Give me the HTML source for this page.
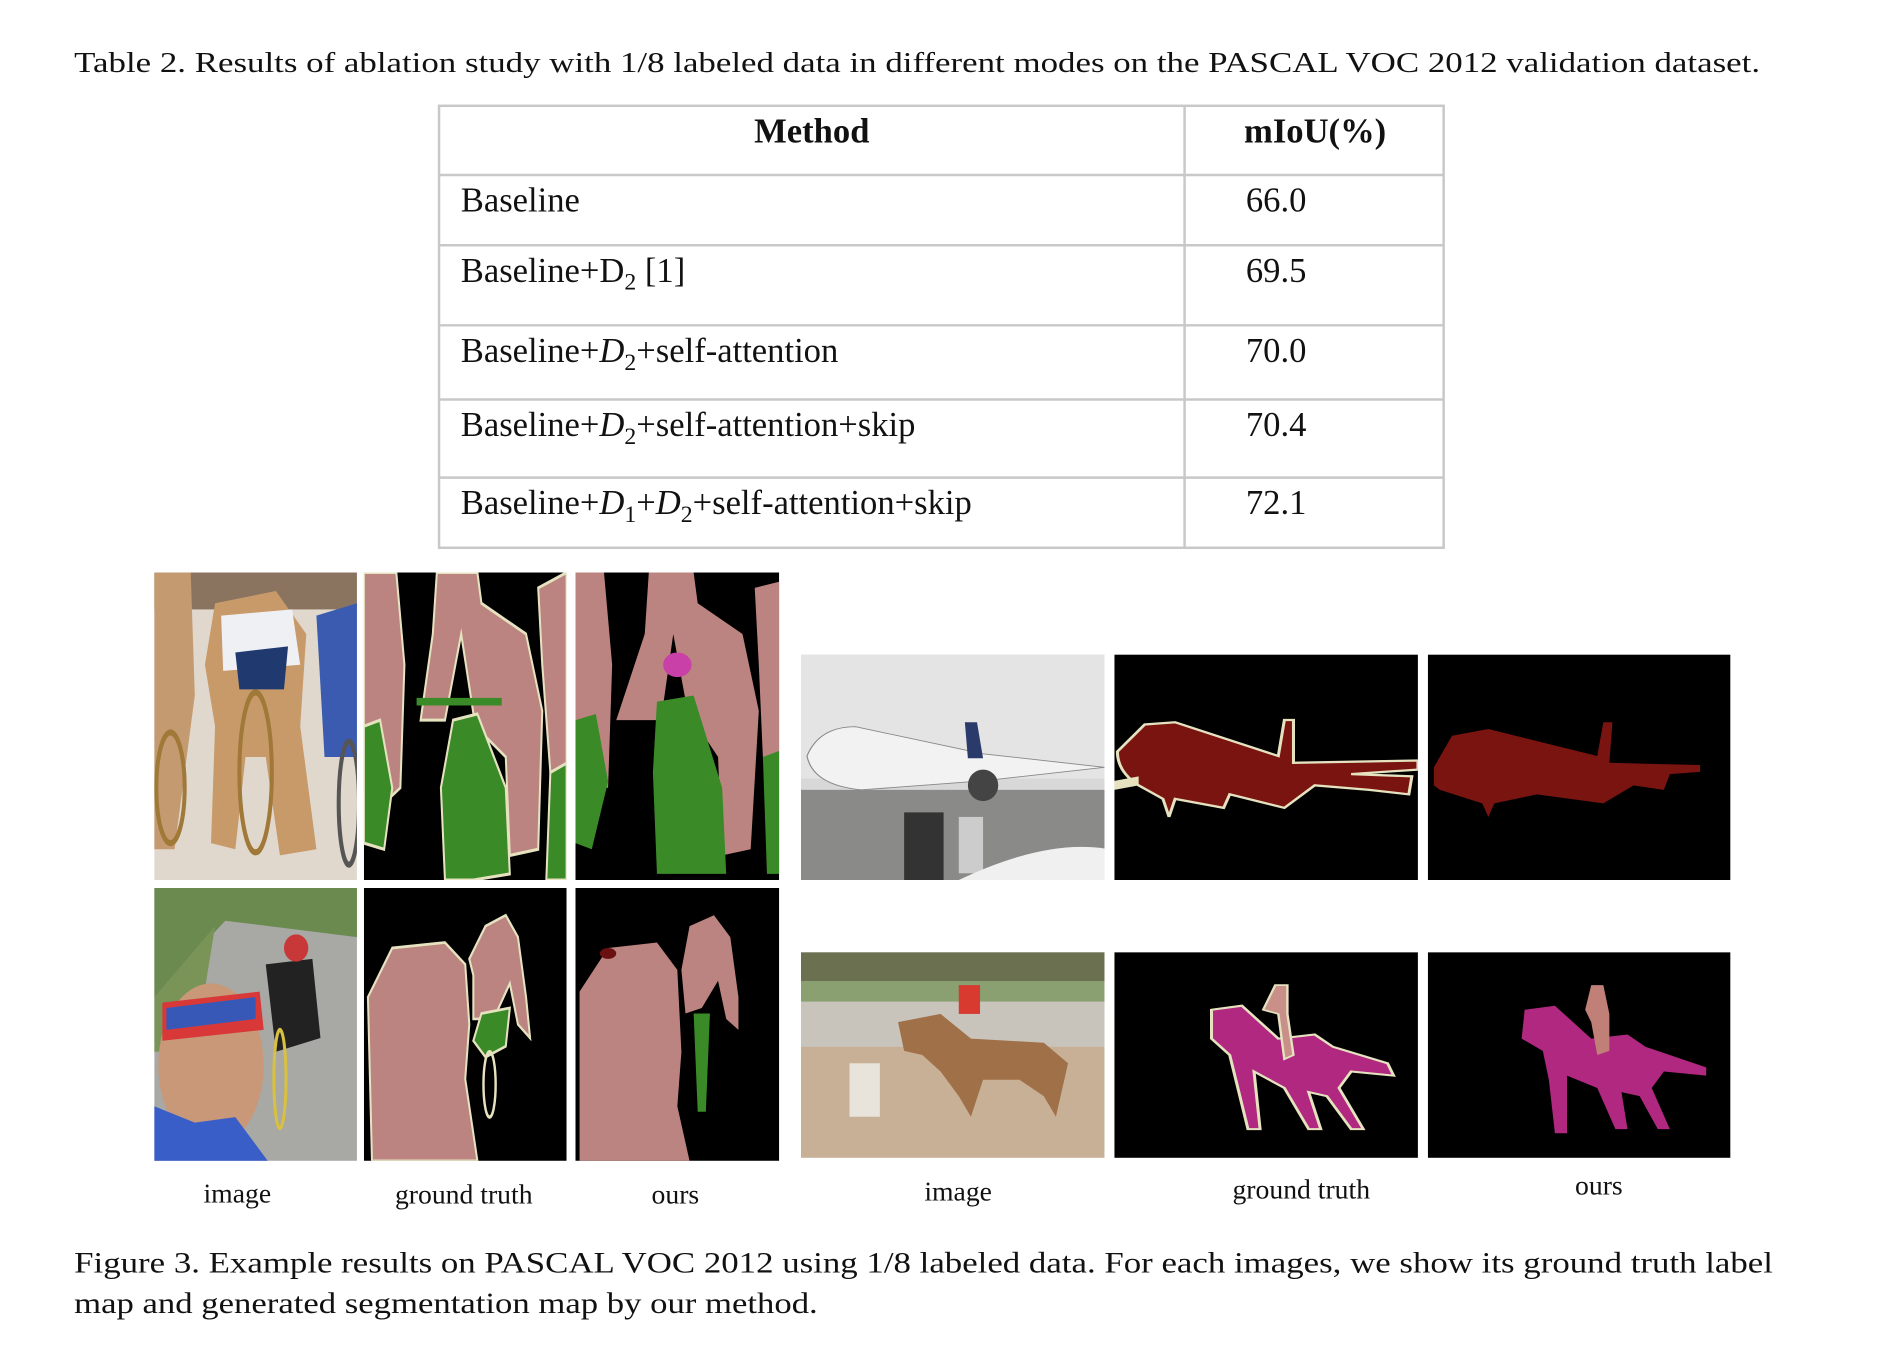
<!DOCTYPE html>
<html><head><meta charset="utf-8">
<style>
html,body{margin:0;padding:0;background:#fff;}
svg{display:block;font-family:"Liberation Serif","Times New Roman",serif;}
</style></head>
<body>
<svg width="1884" height="1346" viewBox="0 0 1884 1346">
<rect width="1884" height="1346" fill="#fff"/>
<g transform="scale(0.9888)">
<text x="75" y="73" font-size="29" fill="#111" textLength="1705" lengthAdjust="spacingAndGlyphs">Table 2. Results of ablation study with 1/8 labeled data in different modes on the PASCAL VOC 2012 validation dataset.</text>

<g stroke="#c8c8c8" stroke-width="2.5" fill="none">
<rect x="444" y="107" width="1016" height="447"/>
<line x1="1198" y1="107" x2="1198" y2="554"/>
<line x1="444" y1="177" x2="1460" y2="177"/>
<line x1="444" y1="248" x2="1460" y2="248"/>
<line x1="444" y1="329" x2="1460" y2="329"/>
<line x1="444" y1="404" x2="1460" y2="404"/>
<line x1="444" y1="483" x2="1460" y2="483"/>
</g>
<g font-size="35" fill="#111">
<text x="821" y="144" font-weight="bold" text-anchor="middle">Method</text>
<text x="1330" y="144" font-weight="bold" text-anchor="middle">mIoU(%)</text>
<text x="466" y="214">Baseline</text>
<text x="466" y="285">Baseline+D<tspan font-size="24" dy="8">2</tspan><tspan dy="-8"> [1]</tspan></text>
<text x="466" y="366">Baseline+<tspan font-style="italic">D</tspan><tspan font-size="24" dy="8">2</tspan><tspan dy="-8">+self-attention</tspan></text>
<text x="466" y="441">Baseline+<tspan font-style="italic">D</tspan><tspan font-size="24" dy="8">2</tspan><tspan dy="-8">+self-attention+skip</tspan></text>
<text x="466" y="520">Baseline+<tspan font-style="italic">D</tspan><tspan font-size="24" dy="8">1</tspan><tspan dy="-8">+</tspan><tspan font-style="italic">D</tspan><tspan font-size="24" dy="8">2</tspan><tspan dy="-8">+self-attention+skip</tspan></text>
<text x="1260" y="214">66.0</text>
<text x="1260" y="285">69.5</text>
<text x="1260" y="366">70.0</text>
<text x="1260" y="441">70.4</text>
<text x="1260" y="520">72.1</text>
</g>

<svg x="156" y="579" width="205" height="311" viewBox="0 0 100 100" preserveAspectRatio="none">
<rect width="100" height="100" fill="#e0d8cc"/>
<rect y="0" width="100" height="12" fill="#8a7460"/>
<path d="M0 0 L18 0 L20 40 L10 90 L0 90Z" fill="#c49a70"/>
<path d="M30 10 L60 6 L75 20 L72 50 L80 90 L62 92 L55 60 L45 60 L40 90 L28 88 L30 50 L25 30Z" fill="#c89a6a"/>
<path d="M33 14 L68 12 L72 30 L34 32Z" fill="#eef0f4"/>
<path d="M40 26 L66 24 L64 38 L42 38Z" fill="#203a70"/>
<path d="M80 14 L100 10 L100 60 L84 60Z" fill="#3a5bb0"/>
<ellipse cx="50" cy="65" rx="8" ry="26" fill="none" stroke="#a07838" stroke-width="2"/>
<ellipse cx="8" cy="70" rx="7" ry="18" fill="none" stroke="#a07838" stroke-width="2"/>
<ellipse cx="96" cy="75" rx="5" ry="20" fill="none" stroke="#555" stroke-width="2"/>
</svg>
<svg x="368" y="579" width="205" height="311" viewBox="0 0 100 100" preserveAspectRatio="none">
<rect width="100" height="100" fill="#000"/>
<path d="M0 0 L16 0 L20 30 L18 70 L10 75 L0 70Z" fill="#bc8480" stroke="#e6e2c0" stroke-width="1"/>
<path d="M36 0 L56 0 L58 10 L80 20 L88 45 L86 90 L72 92 L70 60 L55 50 L48 20 L40 48 L28 48 L34 20Z" fill="#bc8480" stroke="#e6e2c0" stroke-width="1"/>
<path d="M86 5 L100 0 L100 65 L92 65 L88 30Z" fill="#bc8480" stroke="#e6e2c0" stroke-width="1"/>
<path d="M44 48 L56 46 L70 70 L72 98 L54 100 L40 100 L38 70Z" fill="#3a8a28" stroke="#e6e2c0" stroke-width="1"/>
<path d="M0 50 L8 48 L14 70 L10 90 L0 88Z" fill="#3a8a28" stroke="#e6e2c0" stroke-width="1"/>
<path d="M92 65 L100 62 L100 100 L90 100Z" fill="#3a8a28" stroke="#e6e2c0" stroke-width="1"/>
<path d="M26 42 L68 42" stroke="#3a8a28" stroke-width="2.5"/>
</svg>
<svg x="582" y="579" width="206" height="311" viewBox="0 0 100 100" preserveAspectRatio="none">
<rect width="100" height="100" fill="#000"/>
<path d="M0 0 L14 0 L18 30 L16 70 L0 70Z" fill="#bc8480"/>
<path d="M36 0 L58 0 L60 10 L82 20 L90 45 L86 90 L72 92 L70 60 L55 45 L48 20 L42 48 L20 48 L34 20Z" fill="#bc8480"/>
<path d="M88 5 L100 3 L100 60 L92 60 L90 30Z" fill="#bc8480"/>
<path d="M40 42 L58 40 L72 70 L74 98 L40 98 L38 65Z" fill="#3a8a28"/>
<path d="M0 48 L10 46 L16 68 L8 90 L0 88Z" fill="#3a8a28"/>
<path d="M92 60 L100 58 L100 98 L94 98Z" fill="#3a8a28"/>
<ellipse cx="50" cy="30" rx="7" ry="4" fill="#c840a8"/>
</svg>
<svg x="156" y="898" width="205" height="276" viewBox="0 0 100 100" preserveAspectRatio="none">
<rect width="100" height="100" fill="#a8a8a4"/>
<path d="M0 0 L100 0 L100 18 L35 12 L0 40Z" fill="#6a8a50"/>
<path d="M0 40 L30 14 L20 60 L0 60Z" fill="#7a9458"/>
<path d="M55 28 L78 26 L82 55 L60 60Z" fill="#222"/>
<ellipse cx="70" cy="22" rx="6" ry="5" fill="#c83838"/>
<ellipse cx="28" cy="65" rx="26" ry="30" fill="#c89878"/>
<path d="M4 42 L52 38 L54 52 L4 56Z" fill="#d83838"/>
<path d="M6 44 L50 40 L50 48 L6 52Z" fill="#3858b8"/>
<path d="M0 80 L20 86 L40 84 L56 100 L0 100Z" fill="#3a5ec8"/>
<ellipse cx="62" cy="70" rx="3" ry="18" fill="none" stroke="#d8c040" stroke-width="1.5"/>
</svg>
<svg x="368" y="898" width="205" height="276" viewBox="0 0 100 100" preserveAspectRatio="none">
<rect width="100" height="100" fill="#000"/>
<path d="M4 100 L2 40 L14 22 L40 20 L50 28 L52 50 L50 70 L56 100Z" fill="#bc8480" stroke="#e6e2c0" stroke-width="1"/>
<path d="M52 26 L60 14 L70 10 L76 18 L80 40 L82 55 L76 50 L72 35 L64 48 L54 48 L54 32Z" fill="#bc8480" stroke="#e6e2c0" stroke-width="1"/>
<path d="M58 46 L72 44 L70 58 L60 62 L54 56Z" fill="#3a8a28" stroke="#e6e2c0" stroke-width="1"/>
<ellipse cx="62" cy="72" rx="3" ry="12" fill="none" stroke="#e6e2c0" stroke-width="1.2"/>
</svg>
<svg x="582" y="898" width="206" height="276" viewBox="0 0 100 100" preserveAspectRatio="none">
<rect width="100" height="100" fill="#000"/>
<path d="M2 100 L2 38 L16 22 L40 20 L50 30 L52 60 L50 80 L56 100Z" fill="#bc8480"/>
<path d="M52 30 L56 14 L68 10 L76 18 L80 40 L80 52 L74 48 L70 34 L62 44 L54 46Z" fill="#bc8480"/>
<path d="M58 46 L66 46 L64 82 L60 82Z" fill="#3a8a28"/>
<ellipse cx="16" cy="24" rx="4" ry="2" fill="#6a1010"/>
</svg>
<svg x="810" y="662" width="307" height="228" viewBox="0 0 100 100" preserveAspectRatio="none">
<rect width="100" height="100" fill="#d8d8d8"/>
<rect y="0" width="100" height="55" fill="#e4e4e4"/>
<rect y="60" width="100" height="40" fill="#8a8a88"/>
<path d="M2 45 Q6 32 18 32 L60 44 L100 50 L60 56 L20 60 Q4 58 2 45Z" fill="#f2f2f2" stroke="#888" stroke-width="0.4"/>
<path d="M54 30 L58 30 L60 46 L55 46Z" fill="#2a3a6a"/>
<ellipse cx="60" cy="58" rx="5" ry="7" fill="#444"/>
<rect x="34" y="70" width="13" height="30" fill="#333"/>
<rect x="52" y="72" width="8" height="25" fill="#ccc"/>
<path d="M52 100 Q80 82 100 86 L100 100Z" fill="#f0f0f0"/>
</svg>
<svg x="1127" y="662" width="307" height="228" viewBox="0 0 100 100" preserveAspectRatio="none">
<rect width="100" height="100" fill="#000"/>
<path d="M1 43 L10 31 L20 30 L54 45 L56 29 L59 29 L59 48 L100 47 L100 51 L78 53 L98 54 L97 62 L84 60 L66 58 L56 68 L38 62 L36 68 L20 64 L18 72 L16 64 L8 58 Q1 52 1 43Z" fill="#7a1410" stroke="#e6e2c0" stroke-width="1"/>
<path d="M0 56 L8 54 L8 58 L0 60Z" fill="#e6e2c0"/>
</svg>
<svg x="1444" y="662" width="306" height="228" viewBox="0 0 100 100" preserveAspectRatio="none">
<rect width="100" height="100" fill="#000"/>
<path d="M2 50 L8 36 L20 33 L56 45 L58 30 L61 30 L60 48 L90 49 L90 52 L80 53 L78 60 L68 58 L58 66 L36 62 L22 66 L20 72 L18 66 L4 60 L2 58Z" fill="#7a1410"/>
</svg>
<svg x="810" y="963" width="307" height="208" viewBox="0 0 100 100" preserveAspectRatio="none">
<rect width="100" height="100" fill="#c8b096"/>
<rect y="0" width="100" height="16" fill="#6a7050"/>
<rect y="14" width="100" height="14" fill="#8aa070"/>
<rect y="24" width="100" height="22" fill="#c8c4bc"/>
<path d="M32 34 L46 30 L56 42 L80 44 L88 54 L84 80 L80 70 L72 62 L60 62 L56 80 L52 70 L46 58 L40 50 L34 48Z" fill="#a07048"/>
<rect x="52" y="16" width="7" height="14" fill="#d83a30"/>
<rect x="16" y="54" width="10" height="26" fill="#e8e4dc"/>
</svg>
<svg x="1127" y="963" width="307" height="208" viewBox="0 0 100 100" preserveAspectRatio="none">
<rect width="100" height="100" fill="#000"/>
<path d="M32 28 L42 26 L54 42 L66 40 L72 46 L90 54 L92 60 L78 58 L74 66 L82 86 L78 86 L70 70 L64 68 L68 86 L64 86 L56 66 L46 58 L48 86 L44 86 L40 62 L38 50 L32 42Z" fill="#b02880" stroke="#e6e2c0" stroke-width="1"/>
<path d="M53 16 L57 16 L57 30 L59 50 L56 52 L54 30 L49 28Z" fill="#c89088" stroke="#e6e2c0" stroke-width="0.8"/>
</svg>
<svg x="1444" y="963" width="306" height="208" viewBox="0 0 100 100" preserveAspectRatio="none">
<rect width="100" height="100" fill="#000"/>
<path d="M32 28 L42 26 L54 42 L66 40 L72 46 L92 56 L92 60 L78 58 L74 66 L80 86 L76 86 L70 70 L64 68 L66 86 L62 86 L56 66 L46 60 L46 88 L42 88 L40 62 L38 48 L31 42Z" fill="#b02880"/>
<path d="M54 16 L58 16 L60 30 L60 48 L56 50 L54 34 L52 28Z" fill="#c08078"/>
</svg>

<g font-size="28" fill="#111" text-anchor="middle">
<text x="240" y="1216">image</text>
<text x="469" y="1217">ground truth</text>
<text x="683" y="1217">ours</text>
<text x="969" y="1214">image</text>
<text x="1316" y="1212">ground truth</text>
<text x="1617" y="1208">ours</text>
</g>
<g font-size="30" fill="#111">
<text x="75" y="1287" textLength="1718" lengthAdjust="spacingAndGlyphs">Figure 3. Example results on PASCAL VOC 2012 using 1/8 labeled data. For each images, we show its ground truth label</text>
<text x="75" y="1328" textLength="752" lengthAdjust="spacingAndGlyphs">map and generated segmentation map by our method.</text>
</g>
</g>
</svg>
</body></html>
